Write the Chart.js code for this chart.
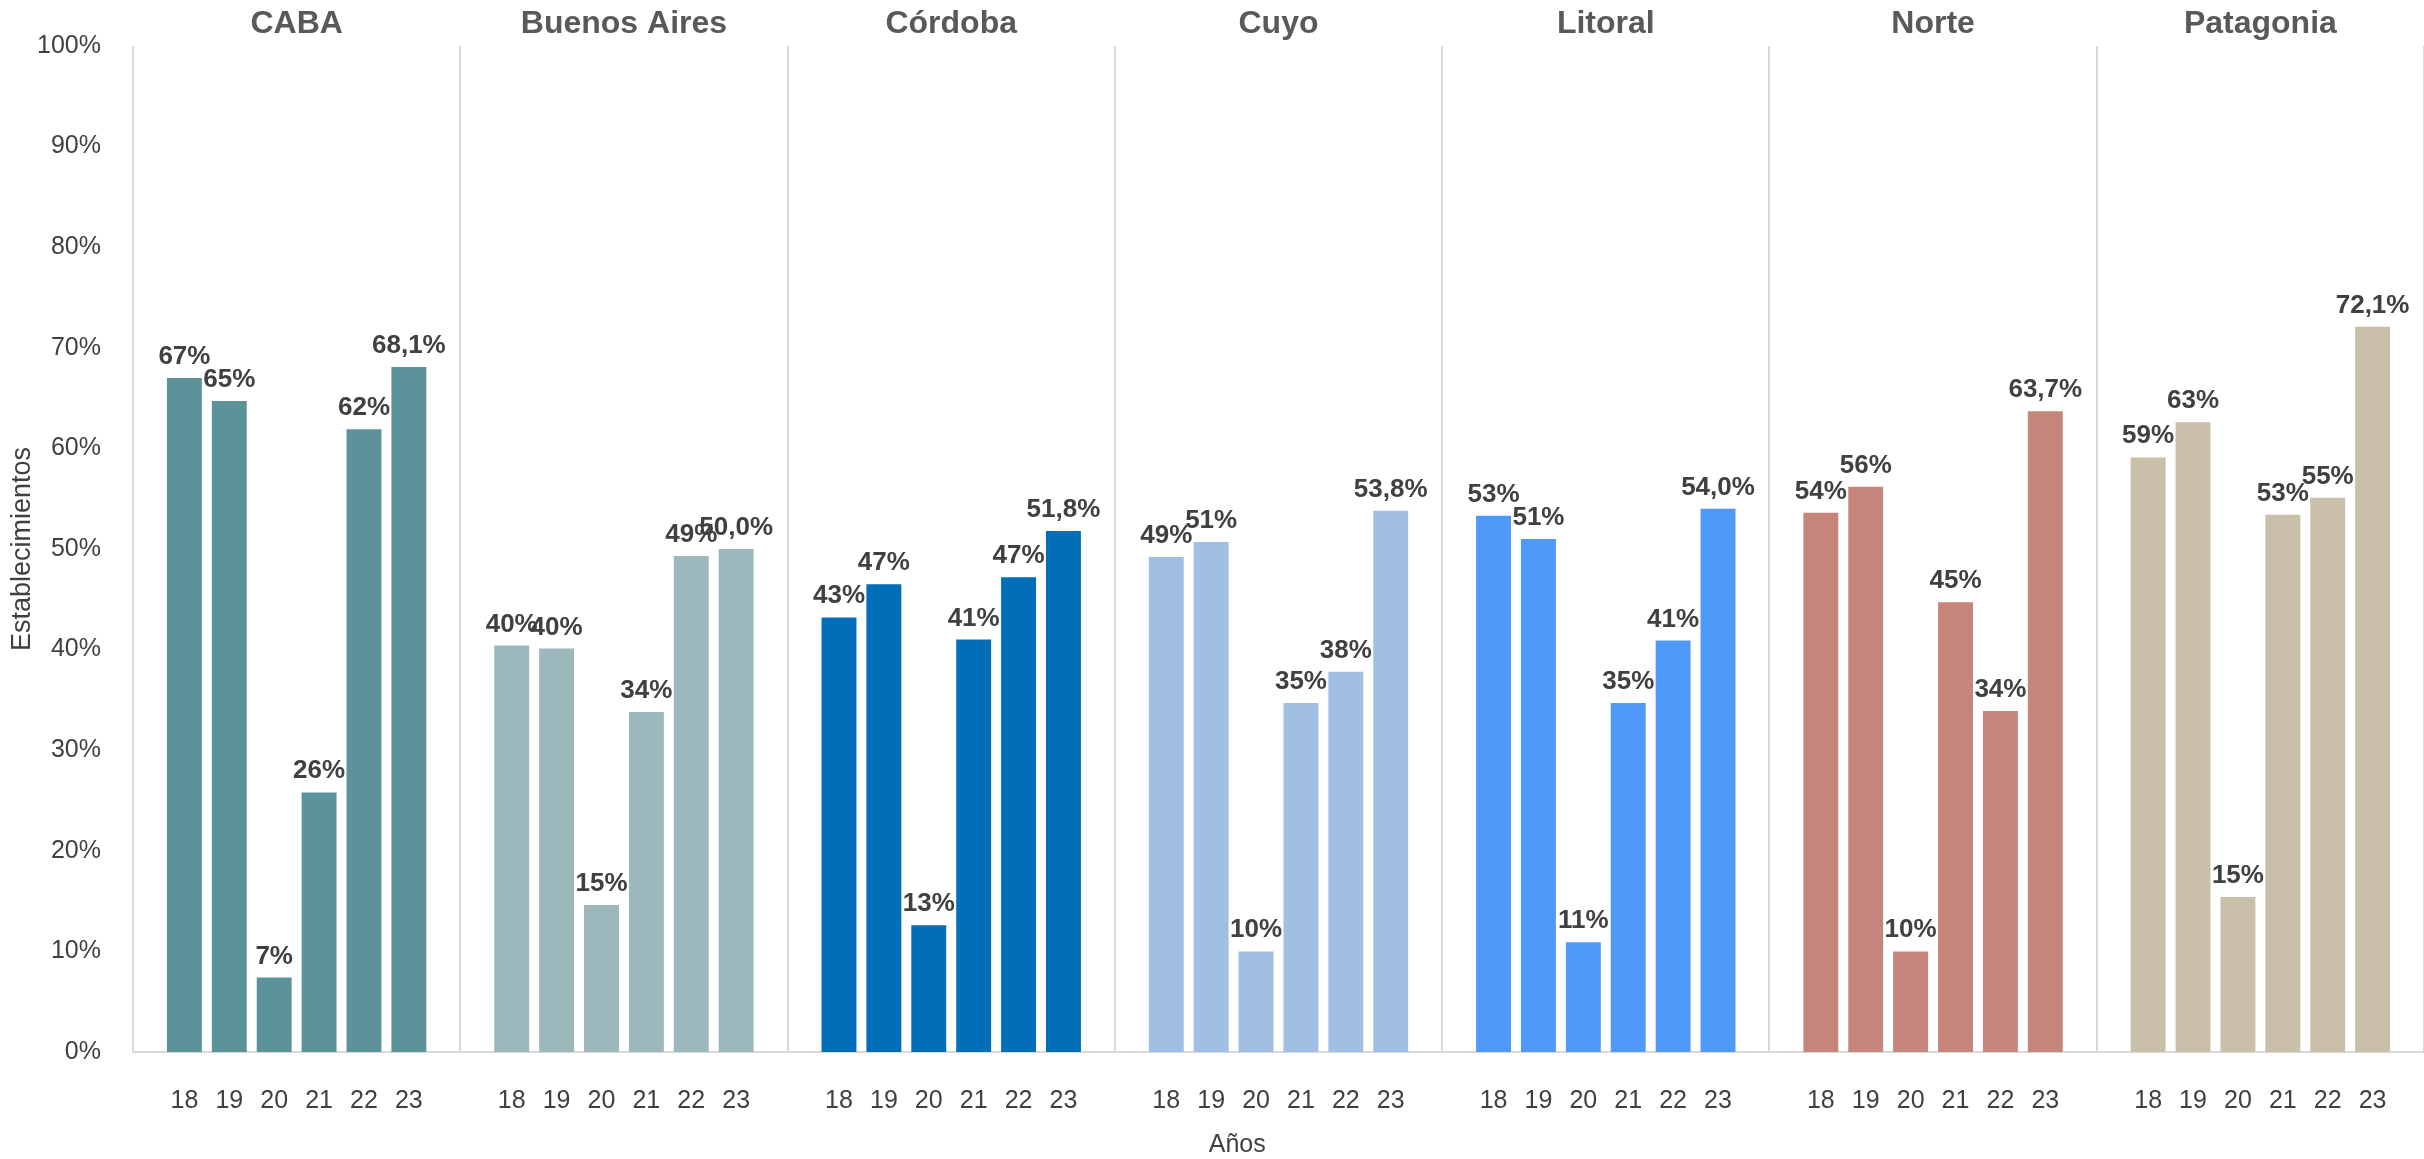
<!DOCTYPE html>
<html>
<head>
<meta charset="utf-8">
<script src="https://cdn.jsdelivr.net/npm/chart.js@4.4.1/dist/chart.umd.min.js"></script>
<style>
  html, body { margin: 0; padding: 0; background: #ffffff; }
  #wrap { width: 2424px; height: 1159px; }
</style>
</head>
<body>
<div id="wrap"><canvas id="c" width="2424" height="1159"></canvas></div>
<script>
const regions = ['CABA', 'Buenos Aires', 'Córdoba', 'Cuyo', 'Litoral', 'Norte', 'Patagonia'];
const years = ['18', '19', '20', '21', '22', '23'];

const caba        = [67.0, 64.7,  7.4, 25.8, 61.9, 68.1];
const buenosAires = [40.4, 40.1, 14.6, 33.8, 49.3, 50.0];
const cordoba     = [43.2, 46.5, 12.6, 41.0, 47.2, 51.8];
const cuyo        = [49.2, 50.7, 10.0, 34.7, 37.8, 53.8];
const litoral     = [53.3, 51.0, 10.9, 34.7, 40.9, 54.0];
const norte       = [53.6, 56.2, 10.0, 44.7, 33.9, 63.7];
const patagonia   = [59.1, 62.6, 15.4, 53.4, 55.1, 72.1];

const yTicks = [0, 10, 20, 30, 40, 50, 60, 70, 80, 90, 100];
const yTitle = 'Establecimientos';
const xTitle = 'Años';

const regionColors = ['#5B9399', '#9DB8BD', '#006EB8', '#A0BFE2', '#4F9AF8', '#C5857A', '#CABFA8'];

const seriesByRegion = [caba, buenosAires, cordoba, cuyo, litoral, norte, patagonia];

const datasets = years.map((yr, yi) => ({
  label: yr,
  data: seriesByRegion.map(s => s[yi]),
  backgroundColor: regionColors,
  borderWidth: 0,
  categoryPercentage: 0.823,
  barPercentage: 0.778
}));

function fmt(v, yi) {
  if (yi === years.length - 1) return v.toFixed(1).replace('.', ',') + '%';
  return Math.round(v) + '%';
}

const FONT = '"Liberation Sans", Arial, sans-serif';

const labelPlugin = {
  id: 'labels',
  afterDatasetsDraw(chart) {
    const ctx = chart.ctx;
    const area = chart.chartArea;
    ctx.save();
    chart.data.datasets.forEach((ds, yi) => {
      const meta = chart.getDatasetMeta(yi);
      meta.data.forEach((bar, ri) => {
        ctx.font = 'bold 26px ' + FONT;
        ctx.fillStyle = '#404040';
        ctx.textAlign = 'center';
        ctx.textBaseline = 'alphabetic';
        ctx.fillText(fmt(ds.data[ri], yi), bar.x, bar.y - 14);
        ctx.font = '25px ' + FONT;
        ctx.textBaseline = 'middle';
        ctx.fillText(years[yi], bar.x, area.bottom + 49);
      });
    });
    ctx.font = '25px ' + FONT;
    ctx.fillStyle = '#404040';
    ctx.textAlign = 'center';
    ctx.textBaseline = 'middle';
    ctx.fillText(xTitle, area.left + (area.right - area.left) * 0.482, area.bottom + 93);
    ctx.restore();
  }
};

new Chart(document.getElementById('c'), {
  type: 'bar',
  data: { labels: regions, datasets: datasets },
  plugins: [labelPlugin],
  options: {
    responsive: false,
    devicePixelRatio: 1,
    animation: false,
    layout: { padding: { left: 0, right: -4, top: 0, bottom: 0 } },
    plugins: { legend: { display: false }, tooltip: { enabled: false } },
    scales: {
      x: {
        type: 'category',
        position: 'bottom',
        offset: true,
        grid: { display: true, offset: true, color: '#D9D9D9', lineWidth: 2, drawTicks: false },
        border: { display: true, color: '#D9D9D9', width: 2 },
        ticks: { display: false },
        afterFit(s) { s.height = 107; }
      },
      x2: {
        type: 'category',
        labels: regions,
        position: 'top',
        offset: true,
        grid: { display: false },
        border: { display: false },
        ticks: { font: { family: FONT, size: 32, weight: 'bold' }, color: '#595959', padding: -5 },
        afterFit(s) { s.height = 46; }
      },
      y: {
        min: 0,
        max: 100,
        afterBuildTicks(s) { s.ticks = yTicks.map(v => ({ value: v })); },
        ticks: {
          callback: v => v + '%',
          font: { family: FONT, size: 25 },
          color: '#404040',
          padding: 24
        },
        grid: { display: false },
        border: { display: false },
        title: {
          display: true,
          text: yTitle,
          font: { family: FONT, size: 27 },
          color: '#404040',
          padding: { top: 6, bottom: 0 }
        },
        afterFit(s) { s.width = 133; }
      }
    }
  }
});
</script>
</body>
</html>
